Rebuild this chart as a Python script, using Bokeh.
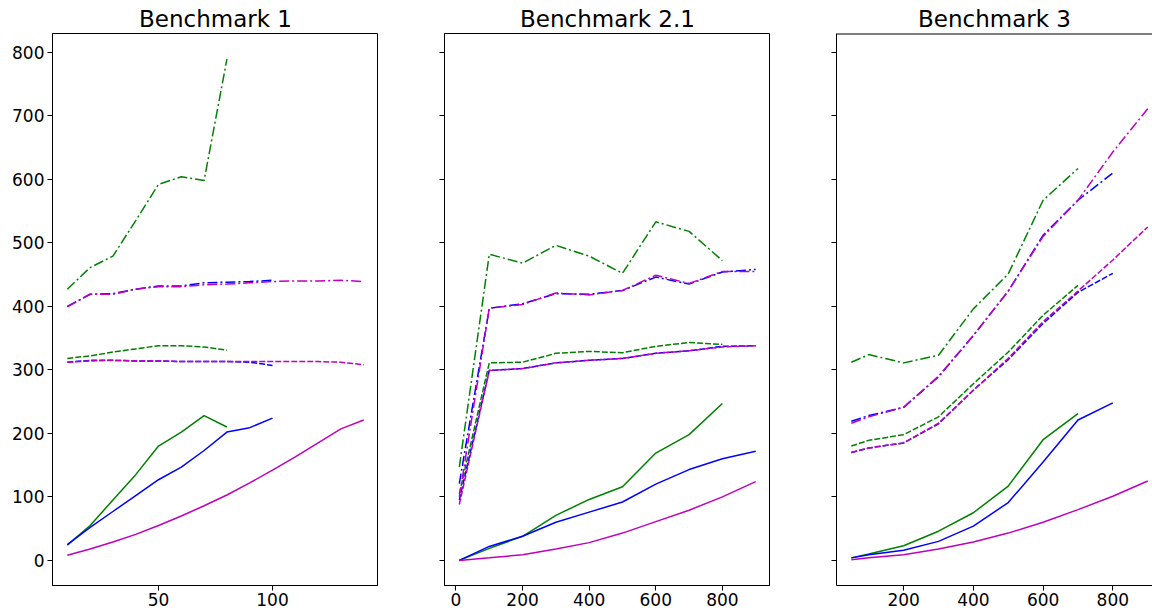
from bokeh.plotting import figure
from bokeh.layouts import row
from bokeh.models import Range1d, FixedTicker, Span
from bokeh.embed import file_html
from bokeh.resources import INLINE

GREEN = "#008000"
BLUE = "#0000ff"
MAGENTA = "#bf00bf"

titles = ["Benchmark 1", "Benchmark 2.1", "Benchmark 3"]
y_ticks = [0, 100, 200, 300, 400, 500, 600, 700, 800]

# ---------------- Benchmark 1 ----------------
b1_x = [10, 20, 30, 40, 50, 60, 70, 80, 90, 100, 110, 120, 130, 140]
b1_green_solid = [24, 55, 95, 135, 180, 202, 228, 210]
b1_blue_solid = [25, 52, 77, 102, 127, 147, 173, 202, 209, 224]
b1_magenta_solid = [8, 18, 29, 41, 55, 70, 86, 103, 122, 142, 163, 185, 207, 221]
b1_green_dash = [318, 322, 328, 333, 338, 338, 336, 331]
b1_blue_dash = [312, 315, 315, 314, 314, 313, 313, 313, 312, 307]
b1_magenta_dash = [312, 314, 315, 314, 314, 313, 313, 313, 313, 313, 313, 313, 312, 308]
b1_green_dashdot = [427, 461, 479, 535, 592, 604, 598, 789]
b1_blue_dashdot = [400, 419, 420, 427, 432, 432, 437, 438, 439, 441]
b1_magenta_dashdot = [399, 419, 419, 427, 431, 431, 434, 435, 437, 439, 440, 440, 441, 439]
b1_xticks = [50, 100]

# ---------------- Benchmark 2.1 ----------------
b2_x = [10, 100, 200, 300, 400, 500, 600, 700, 800, 900]
b2_green_solid = [0, 19, 38, 71, 96, 116, 169, 198, 247]
b2_blue_solid = [0, 22, 38, 60, 76, 92, 120, 143, 160, 172]
b2_magenta_solid = [0, 4, 9, 18, 28, 43, 61, 79, 100, 124]
b2_green_dash = [105, 311, 312, 326, 329, 327, 337, 343, 340]
b2_blue_dash = [95, 299, 302, 311, 315, 318, 326, 330, 337, 338]
b2_magenta_dash = [88, 299, 302, 311, 315, 318, 326, 330, 336, 338]
b2_green_dashdot = [147, 482, 468, 496, 479, 452, 533, 518, 472]
b2_blue_dashdot = [121, 397, 404, 420, 419, 425, 446, 435, 454, 458]
b2_magenta_dashdot = [100, 397, 403, 421, 418, 425, 449, 436, 455, 455]
b2_xticks = [0, 200, 400, 600, 800]

# ---------------- Benchmark 3 ----------------
b3_x = [50, 100, 200, 300, 400, 500, 600, 700, 800, 900]
b3_green_solid = [4, 10, 23, 46, 75, 117, 190, 231]
b3_blue_solid = [4, 9, 16, 30, 54, 91, 155, 221, 248]
b3_magenta_solid = [1, 4, 9, 18, 29, 43, 60, 80, 101, 125]
b3_green_dash = [180, 189, 198, 226, 278, 328, 386, 433]
b3_blue_dash = [170, 177, 185, 215, 268, 316, 373, 422, 452]
b3_magenta_dash = [170, 177, 185, 216, 268, 318, 376, 424, 473, 525]
b3_green_dashdot = [312, 324, 311, 323, 396, 451, 567, 617]
b3_blue_dashdot = [219, 228, 241, 289, 354, 424, 512, 567, 610]
b3_magenta_dashdot = [216, 226, 241, 290, 354, 424, 510, 567, 643, 711]
b3_xticks = [200, 400, 600, 800]

FONT = "DejaVu Sans"
FRAME_H = 552
y_range = Range1d(-39.5, 829.5)

DASH = "6 2"
DASHDOT = "10 3 2 3"


def make_fig(title, x_range, frame_w, border_left, show_ylabels, xticks):
    p = figure(
        title=title,
        x_range=x_range,
        y_range=y_range,
        frame_width=frame_w,
        frame_height=FRAME_H,
        min_border_left=border_left,
        min_border_right=0,
        min_border_top=33,
        min_border_bottom=27,
        output_backend="svg",
        toolbar_location=None,
    )
    p.title.text_font = FONT
    p.title.text_font_size = "23px"
    p.title.text_font_style = "normal"
    p.title.align = "center"
    p.title.text_color = "#000000"
    p.title.standoff = 4
    p.xgrid.visible = False
    p.ygrid.visible = False
    p.outline_line_color = "#000000"
    p.outline_line_width = 1
    p.outline_line_alpha = 1
    for ax in (p.xaxis[0], p.yaxis[0]):
        ax.axis_line_color = "#000000"
        ax.major_tick_line_color = "#000000"
        ax.major_tick_out = 5
        ax.major_tick_in = 0
        ax.minor_tick_line_color = None
        ax.major_label_text_font = FONT
        ax.major_label_text_font_size = "17px"
        ax.major_label_text_color = "#000000"
        ax.major_label_standoff = 3
    p.xaxis[0].ticker = FixedTicker(ticks=xticks)
    p.xaxis[0].major_label_standoff = 2
    if show_ylabels:
        p.yaxis[0].ticker = FixedTicker(ticks=y_ticks)
    else:
        # shared y axis: tick marks only, drawn as minor ticks (no labels)
        p.yaxis[0].ticker = FixedTicker(ticks=[], minor_ticks=y_ticks)
        p.yaxis[0].minor_tick_line_color = "#000000"
        p.yaxis[0].minor_tick_out = 5
        p.yaxis[0].minor_tick_in = 0
        p.yaxis[0].major_label_standoff = 0
    p.background_fill_color = "#ffffff"
    p.border_fill_color = "#ffffff"
    return p


def draw(p, x, series):
    for ys, color, dash in series:
        kw = {}
        if dash is not None:
            kw["line_dash"] = dash
        p.line(x[:len(ys)], ys, line_color=color, line_width=1.5, **kw)


p1 = make_fig(titles[0], Range1d(3.5, 146.5), 326, 52, True, b1_xticks)
draw(p1, b1_x, [
    (b1_green_solid, GREEN, None), (b1_blue_solid, BLUE, None), (b1_magenta_solid, MAGENTA, None),
    (b1_green_dash, GREEN, DASH), (b1_blue_dash, BLUE, DASH), (b1_magenta_dash, MAGENTA, DASH),
    (b1_green_dashdot, GREEN, DASHDOT), (b1_blue_dashdot, BLUE, DASHDOT), (b1_magenta_dashdot, MAGENTA, DASHDOT),
])

p2 = make_fig(titles[1], Range1d(-34.5, 944.5), 326, 66, False, b2_xticks)
draw(p2, b2_x, [
    (b2_green_solid, GREEN, None), (b2_blue_solid, BLUE, None), (b2_magenta_solid, MAGENTA, None),
    (b2_green_dash, GREEN, DASH), (b2_blue_dash, BLUE, DASH), (b2_magenta_dash, MAGENTA, DASH),
    (b2_green_dashdot, GREEN, DASHDOT), (b2_blue_dashdot, BLUE, DASHDOT), (b2_magenta_dashdot, MAGENTA, DASHDOT),
])

# third panel is cut at the window edge, like the reference
p3 = make_fig(titles[2], Range1d(7.5, 7.5 + 316 / 0.3487), 316, 66, False, b3_xticks)
p3.outline_line_color = None
p3.add_layout(Span(location=829.5, dimension="width", line_color="#000000", line_width=2))
draw(p3, b3_x, [
    (b3_green_solid, GREEN, None), (b3_blue_solid, BLUE, None), (b3_magenta_solid, MAGENTA, None),
    (b3_green_dash, GREEN, DASH), (b3_blue_dash, BLUE, DASH), (b3_magenta_dash, MAGENTA, DASH),
    (b3_green_dashdot, GREEN, DASHDOT), (b3_blue_dashdot, BLUE, DASHDOT), (b3_magenta_dashdot, MAGENTA, DASHDOT),
])

layout = row(p1, p2, p3, spacing=0)
open("out.html", "w").write(file_html(layout, INLINE))
